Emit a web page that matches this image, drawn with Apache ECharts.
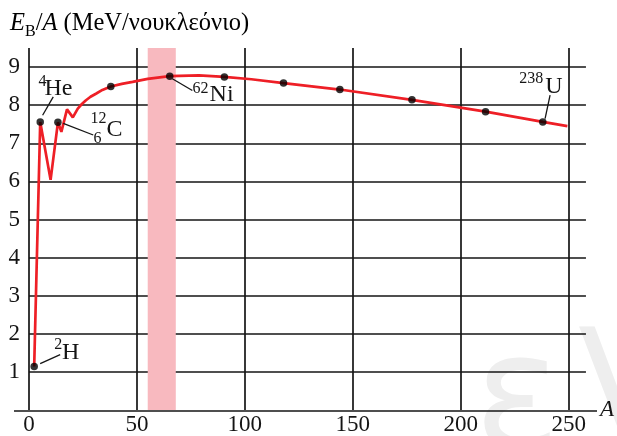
<!DOCTYPE html>
<html><head><meta charset="utf-8">
<script src="https://cdn.jsdelivr.net/npm/echarts@6/dist/echarts.min.js"></script>
<style>html,body{margin:0;padding:0;background:#fff}#c{width:617px;height:436px}</style>
</head><body><div id="c"></div>
<script>
// ---- data ----
const curveA = [2.4, 5.2, 10, 13.4, 15, 17.6, 20.3, 22.6, 24.5, 26.4, 28.5, 31, 34, 37.9, 43, 48, 55, 65.2, 78.7, 90.5, 103, 117.9, 144, 177.4, 211.5, 238, 249.4];
const curveE = [1.14, 7.56, 6.04, 7.55, 7.3, 7.89, 7.68, 7.91, 8.03, 8.13, 8.22, 8.3, 8.4, 8.49, 8.56, 8.61, 8.69, 8.76, 8.78, 8.74, 8.68, 8.58, 8.41, 8.14, 7.83, 7.56, 7.45];
const dotA = [2.4, 5.2, 13.4, 37.9, 65.2, 90.5, 117.9, 144, 177.4, 211.5, 238];
const dotE = [1.14, 7.56, 7.55, 8.49, 8.76, 8.74, 8.58, 8.41, 8.14, 7.83, 7.56];
const isoDot = [0, 1, 2, 4, 10];
const isoMain = ['H', 'He', 'C', 'Ni', 'U'];
const isoSup = ['2', '4', '12', '62', '238'];
const isoSub = ['', '', '6', '', ''];
const bandA = [55, 68];
const xTickStep = 50;
const yTickStep = 1;

// ---- layout (pixel offsets from each labelled dot) ----
const labelLayout = [
  {l: [6, -3, 26, -12], m: [27.7, -14], s: [20, -22], b: null},
  {l: [2.4, -6.7, 13, -25], m: [4.2, -33], s: [-1.8, -39.7], b: null},
  {l: [5.3, 1, 35.3, 12.7], m: [48.5, 7], s: [32.5, -4], b: [35.5, 16]},
  {l: [2.6, 2.6, 22.6, 14.3], m: [39.8, 19], s: [22.8, 13], b: null},
  {l: [2.3, -3.4, 7.3, -26.7], m: [2.5, -35.7], s: [-23.5, -42.7], b: null}
];

const FONT = '"Liberation Serif", "Times New Roman", serif';
const INK = '#151515';
const chart = echarts.init(document.getElementById('c'));

const curve = curveA.map((a, i) => [a, curveE[i]]);
const dots = dotA.map((a, i) => [a, dotE[i]]);
const isoData = isoDot.map((d, i) => [dotA[d], dotE[d], i]);

chart.setOption({
  animation: false,
  backgroundColor: '#fff',
  grid: {left: 29, right: 28, top: 48, bottom: 25, containLabel: false},
  xAxis: {
    type: 'value', min: 0, max: 258, interval: xTickStep,
    axisLine: {show: false}, axisTick: {show: false},
    axisLabel: {fontFamily: FONT, fontSize: 23, color: INK, margin: 3, showMaxLabel: false},
    splitLine: {show: true, showMaxLine: false, lineStyle: {color: INK, width: 1.7}},
    name: 'A', nameLocation: 'end', nameGap: 14,
    nameTextStyle: {fontFamily: FONT, fontStyle: 'italic', fontSize: 23, color: INK, verticalAlign: 'middle'}
  },
  yAxis: {
    type: 'value', min: 0, max: 9.5, interval: yTickStep,
    axisLine: {show: false}, axisTick: {show: false},
    axisLabel: {fontFamily: FONT, fontSize: 23, color: INK, margin: 9, showMaxLabel: false, showMinLabel: false},
    splitLine: {show: true, showMaxLine: false, showMinLine: false, lineStyle: {color: INK, width: 1.7}}
  },
  graphic: [
    {type: 'line', z: 5, shape: {x1: 14, y1: 411, x2: 597, y2: 411}, style: {stroke: INK, lineWidth: 1.7}},
    {type: 'text', left: 474, top: 326, z: -10, silent: true,
      style: {text: 'ε', fontSize: 160, fontFamily: 'DejaVu Sans', fill: '#eeeeee'}},
    {type: 'text', left: 578, top: 322, z: -10, silent: true,
      style: {text: 'V', fontSize: 150, fontFamily: 'DejaVu Sans', fill: '#eeeeee'}},
    {type: 'text', left: 10, top: 11, z: 5,
      style: {
        text: '{i|E}{sub|B}{n|/}{i|A}{n| (MeV/νουκλεόνιο)}',
        rich: {
          i: {fontFamily: FONT, fontStyle: 'italic', fontSize: 24.5, color: INK, lineHeight: 29, verticalAlign: 'top'},
          n: {fontFamily: FONT, fontSize: 24.5, color: INK, lineHeight: 29, verticalAlign: 'top'},
          sub: {fontFamily: FONT, fontSize: 16, color: INK, lineHeight: 16, verticalAlign: 'bottom'}
        }
      }}
  ],
  series: [
    {
      type: 'line', data: curve, showSymbol: false, z: 3,
      lineStyle: {color: '#ee1f26', width: 2.7}, silent: true,
      markArea: {silent: true, itemStyle: {color: '#f8b9bf', opacity: 1},
        data: [[{xAxis: bandA[0]}, {xAxis: bandA[1]}]]}
    },
    {
      type: 'scatter', data: dots, symbolSize: 7.5, z: 4,
      itemStyle: {color: '#000'}, silent: true
    },
    {
      type: 'custom', data: isoData, z: 6, silent: true,
      renderItem: function (params, api) {
        const i = api.value(2);
        const p = api.coord([api.value(0), api.value(1)]);
        const L = labelLayout[i];
        const kids = [
          {type: 'line', shape: {x1: p[0] + L.l[0], y1: p[1] + L.l[1], x2: p[0] + L.l[2], y2: p[1] + L.l[3]},
            style: {stroke: INK, lineWidth: 1.3}},
          {type: 'text', x: p[0] + L.m[0], y: p[1] + L.m[1],
            style: {text: isoMain[i], fontFamily: FONT, fontSize: 24, fill: INK, align: 'left', verticalAlign: 'middle'}},
          {type: 'text', x: p[0] + L.s[0], y: p[1] + L.s[1],
            style: {text: isoSup[i], fontFamily: FONT, fontSize: 16, fill: INK, align: 'left', verticalAlign: 'middle'}}
        ];
        if (L.b && isoSub[i]) {
          kids.push({type: 'text', x: p[0] + L.b[0], y: p[1] + L.b[1],
            style: {text: isoSub[i], fontFamily: FONT, fontSize: 16, fill: INK, align: 'left', verticalAlign: 'middle'}});
        }
        return {type: 'group', children: kids};
      }
    }
  ]
});
</script></body></html>
